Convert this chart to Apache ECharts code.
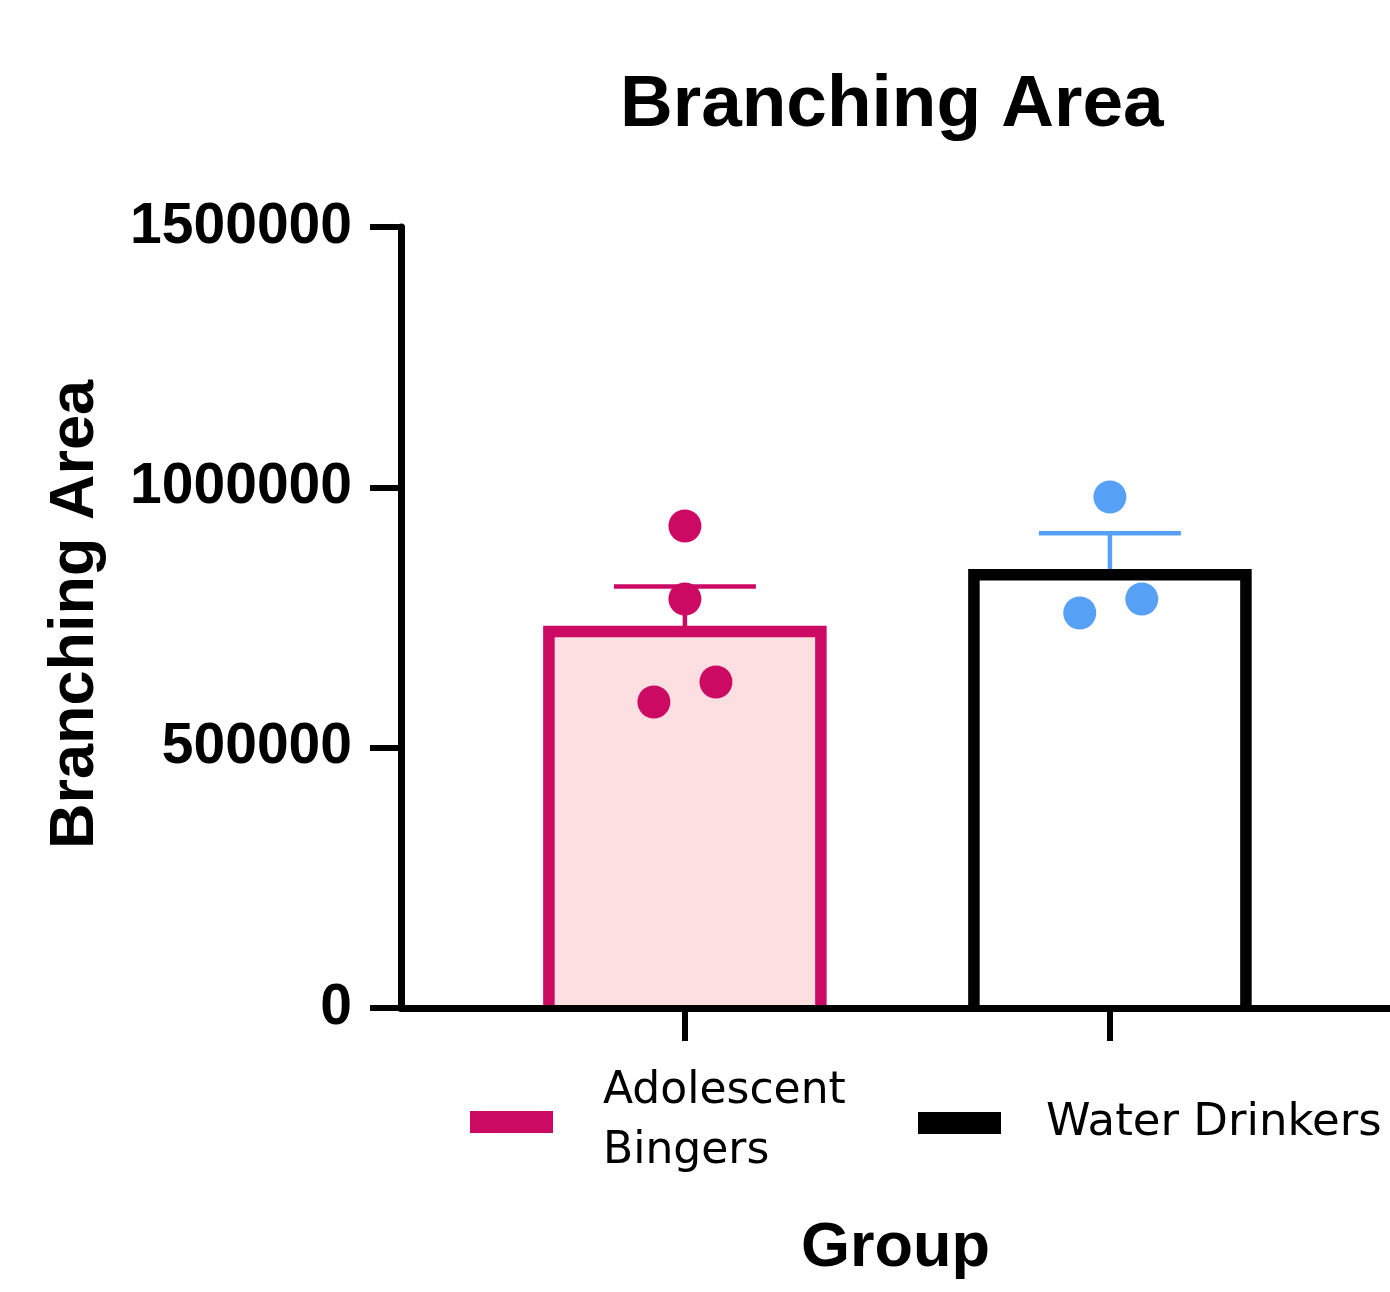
<!DOCTYPE html>
<html>
<head>
<meta charset="utf-8">
<script src="https://cdn.jsdelivr.net/npm/echarts@6/dist/echarts.min.js"></script>
<style>
  html, body { margin: 0; padding: 0; background: #ffffff; }
  #chart { width: 1390px; height: 1292px; }
</style>
</head>
<body>
<div id="chart"></div>
<script>
// Groups and their summary values (mean and mean + SEM)
const groups = ['Adolescent Bingers', 'Water Drinkers'];
const legendLabels = ['Adolescent\nBingers', 'Water Drinkers'];
const groupMeans = [723000, 832000];
const groupUpper = [809500, 911700];

// Individual animals per group, with horizontal jitter around the group position
const bingerPoints = [925700, 785500, 626100, 587700];
const bingerJitter = [0, 0, 0.073, -0.073];
const waterPoints = [981400, 785500, 758600];
const waterJitter = [0, 0.075, -0.071];

// Value axis ticks
const yTicks = [0, 500000, 1000000, 1500000];

const FONT = "'Liberation Sans', Arial, Helvetica, sans-serif";
const LEGEND_FONT = "'DejaVu Sans', 'Liberation Sans', sans-serif";
const PINK = '#CC0A63';
const PINK_FILL = '#FDDFE2';
const BLUE = '#56A1F6';
const BAR_W = 272;
const CAP_W = 142;

function makeBarRenderer(fill, stroke, errColor) {
  return function (params, api) {
    const x = api.value(0);
    const base = api.coord([x, 0]);
    const top = api.coord([x, api.value(1)]);
    const cap = api.coord([x, api.value(2)]);
    const cx = base[0];
    const half = BAR_W / 2;
    return {
      type: 'group',
      children: [
        {
          type: 'rect',
          shape: { x: cx - half, y: top[1], width: BAR_W, height: base[1] - top[1] },
          style: { fill: fill }
        },
        {
          type: 'line',
          shape: { x1: cx, y1: top[1], x2: cx, y2: cap[1] },
          style: { stroke: errColor, lineWidth: 4.5 }
        },
        {
          type: 'line',
          shape: { x1: cx - CAP_W / 2, y1: cap[1], x2: cx + CAP_W / 2, y2: cap[1] },
          style: { stroke: errColor, lineWidth: 4.5 }
        },
        {
          type: 'polyline',
          shape: {
            points: [[cx - half, base[1]], [cx - half, top[1]], [cx + half, top[1]], [cx + half, base[1]]]
          },
          style: { stroke: stroke, lineWidth: 11.5, fill: null, lineJoin: 'miter' }
        }
      ]
    };
  };
}

const chart = echarts.init(document.getElementById('chart'), null, { renderer: 'canvas' });

chart.setOption({
  animation: false,
  backgroundColor: '#ffffff',
  title: {
    text: 'Branching Area',
    left: 620,
    top: 69,
    padding: 0,
    textStyle: { fontFamily: FONT, fontSize: 73, fontWeight: 'bold', color: '#000' }
  },
  legend: [
    {
      data: [{ name: groups[0], itemStyle: { color: PINK, borderWidth: 0 } }],
      left: 470,
      top: 1062,
      padding: 0,
      icon: 'rect',
      itemWidth: 83,
      itemHeight: 22,
      selectedMode: false,
      formatter: () => legendLabels[0],
      textStyle: { fontFamily: LEGEND_FONT, fontSize: 44, lineHeight: 60, color: '#000', padding: [0, 0, 0, 45] }
    },
    {
      data: [{ name: groups[1], itemStyle: { color: '#000', borderWidth: 0 } }],
      left: 918,
      top: 1094,
      padding: 0,
      icon: 'rect',
      itemWidth: 83,
      itemHeight: 22,
      selectedMode: false,
      formatter: () => legendLabels[1],
      textStyle: { fontFamily: LEGEND_FONT, fontSize: 45, lineHeight: 58, color: '#000', padding: [0, 0, 0, 40] }
    }
  ],
  grid: {
    left: 401,
    right: 0,
    top: 227,
    bottom: 284,
    containLabel: false,
    outerBoundsMode: 'none'
  },
  xAxis: {
    type: 'value',
    min: -0.668,
    max: 1.659,
    z: 5,
    name: 'Group',
    nameLocation: 'middle',
    nameGap: 209,
    nameMoveOverlap: false,
    nameTextStyle: { fontFamily: FONT, fontSize: 63, fontWeight: 'bold', color: '#000' },
    axisLine: { show: true, onZero: false, lineStyle: { color: '#000', width: 7 } },
    axisTick: { show: true, customValues: [0, 1], length: 33, lineStyle: { color: '#000', width: 6 } },
    axisLabel: { show: false },
    splitLine: { show: false }
  },
  yAxis: {
    type: 'value',
    min: yTicks[0],
    max: yTicks[yTicks.length - 1],
    interval: yTicks[1] - yTicks[0],
    z: 5,
    name: 'Branching Area',
    nameLocation: 'middle',
    nameGap: 294,
    nameMoveOverlap: false,
    nameTextStyle: { fontFamily: FONT, fontSize: 63, fontWeight: 'bold', color: '#000', padding: [0, 0, 0, 6] },
    axisLine: { show: true, onZero: false, lineStyle: { color: '#000', width: 7 } },
    axisTick: { show: true, length: 31, lineStyle: { color: '#000', width: 6 } },
    axisLabel: {
      margin: 49,
      formatter: (v) => String(v),
      fontFamily: FONT,
      fontSize: 57,
      fontWeight: 'bold',
      color: '#000',
      padding: [10, 0, 0, 0]
    },
    splitLine: { show: false }
  },
  series: [
    {
      name: groups[0],
      type: 'custom',
      z: 2,
      itemStyle: { color: PINK },
      renderItem: makeBarRenderer(PINK_FILL, PINK, PINK),
      data: [[0, groupMeans[0], groupUpper[0]]]
    },
    {
      name: groups[1],
      type: 'custom',
      z: 2,
      itemStyle: { color: '#000' },
      renderItem: makeBarRenderer('#ffffff', '#000000', BLUE),
      data: [[1, groupMeans[1], groupUpper[1]]]
    },
    {
      name: groups[0],
      type: 'scatter',
      z: 4,
      symbol: 'circle',
      symbolSize: 33,
      itemStyle: { color: PINK, opacity: 1 },
      data: bingerPoints.map((v, i) => [0 + bingerJitter[i], v])
    },
    {
      name: groups[1],
      type: 'scatter',
      z: 4,
      symbol: 'circle',
      symbolSize: 33,
      itemStyle: { color: BLUE, opacity: 1 },
      data: waterPoints.map((v, i) => [1 + waterJitter[i], v])
    }
  ]
});
</script>
</body>
</html>
